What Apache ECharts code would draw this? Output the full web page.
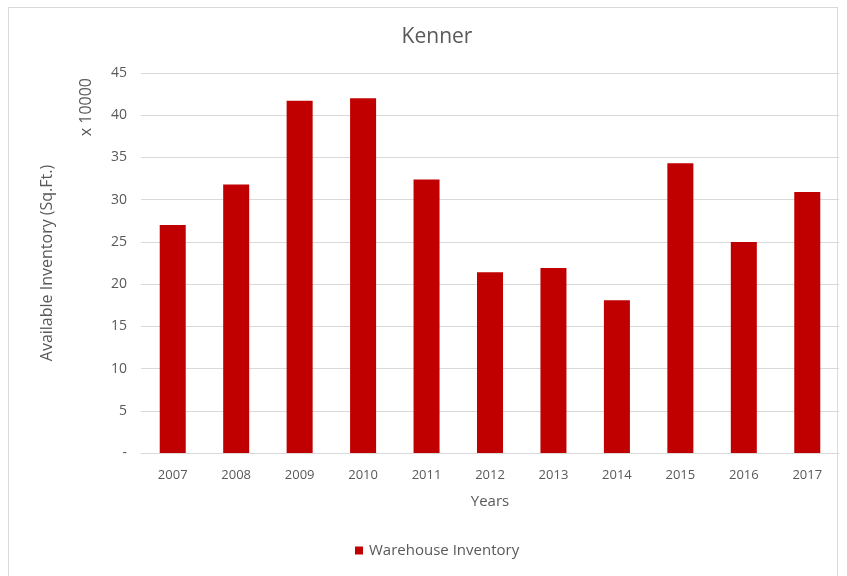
<!DOCTYPE html>
<html><head><meta charset="utf-8">
<script src="https://cdn.jsdelivr.net/npm/echarts@6/dist/echarts.min.js"></script>
<style>
html,body{margin:0;padding:0;background:#fff;}
#frame{position:absolute;left:8px;top:7px;width:830px;height:600px;border:1px solid #d9d9d9;box-sizing:border-box;}
#c{position:absolute;left:0;top:0;width:847px;height:576px;}
</style></head>
<body>
<div id="frame"></div>
<div id="c"></div>
<script>
const years = ['2007','2008','2009','2010','2011','2012','2013','2014','2015','2016','2017'];
const inventory = [27.0, 31.8, 41.7, 42.0, 32.4, 21.4, 21.9, 18.1, 34.3, 25.0, 30.9];
const seriesName = 'Warehouse Inventory';
const yTicks = {min: 0, max: 45, interval: 5};

const font = '"Open Sans", sans-serif';
const chart = echarts.init(document.getElementById('c'));
chart.setOption({
  animation: false,
  title: {text: 'Kenner', left: 432, textAlign: 'center', top: 22, textStyle: {fontFamily: font, fontSize: 21, fontWeight: 'normal', color: '#595959'}},
  grid: {left: 141, right: 8, top: 73, bottom: 123},
  legend: {bottom: 18, left: 355, padding: 0, itemWidth: 8, itemHeight: 8, icon: 'rect', itemGap: 4,
    textStyle: {fontFamily: font, fontSize: 15, color: '#595959', padding: [0, 0, 0, 1]}, data: [seriesName]},
  xAxis: {type: 'category', data: years,
    name: 'Years', nameLocation: 'middle', nameGap: 41,
    nameTextStyle: {fontFamily: font, fontSize: 15, color: '#595959'},
    axisLine: {lineStyle: {color: '#d9d9d9', width: 1}},
    axisTick: {show: false},
    axisLabel: {fontFamily: font, fontSize: 13, color: '#595959', margin: 16}},
  yAxis: {type: 'value', min: yTicks.min, max: yTicks.max, interval: yTicks.interval,
    name: 'Available Inventory (Sq.Ft.)', nameLocation: 'middle', nameGap: 86,
    nameTextStyle: {fontFamily: font, fontSize: 16, color: '#595959'},
    axisLine: {show: false}, axisTick: {show: false},
    splitLine: {lineStyle: {color: '#d9d9d9', width: 1}},
    axisLabel: {fontFamily: font, fontSize: 14, color: '#595959', margin: 14,
      formatter: v => v === 0 ? '-' : String(v)}},
  graphic: [{type: 'text', left: 78, top: 78, rotation: Math.PI/2,
    style: {text: 'x 10000', fontFamily: font, fontSize: 16, fill: '#595959'}}],
  series: [{name: seriesName, type: 'bar', data: inventory, barWidth: '41%',
    itemStyle: {color: '#c00000'}}]
});
</script>
</body></html>
